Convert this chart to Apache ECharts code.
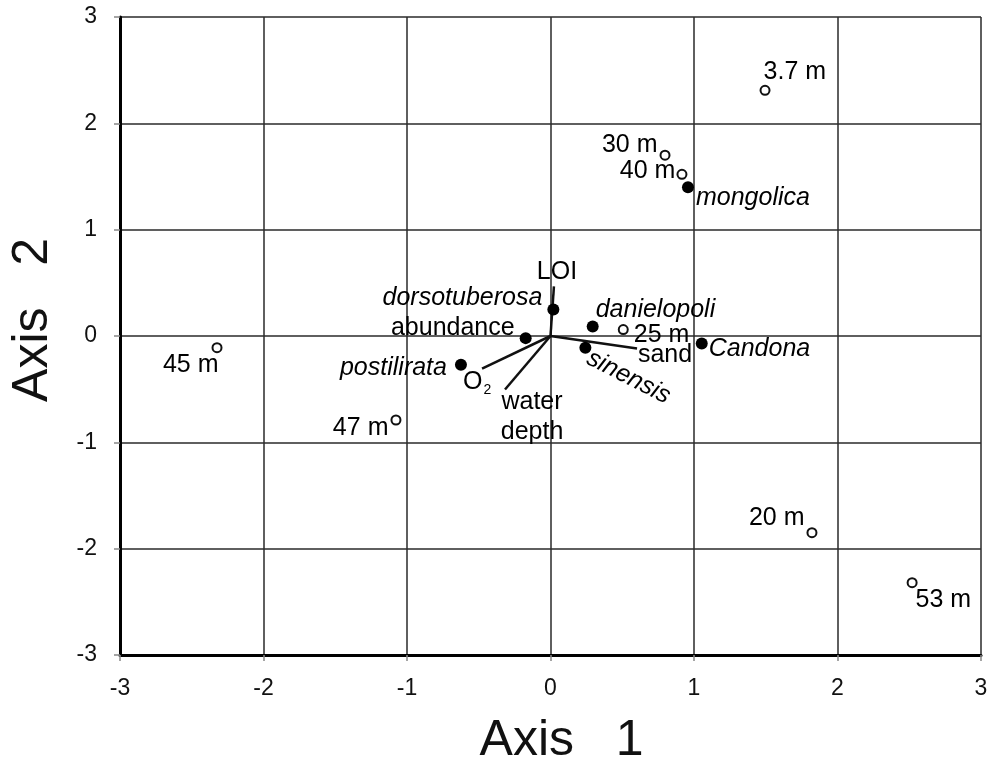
<!DOCTYPE html>
<html>
<head>
<meta charset="utf-8">
<style>
  html, body { margin: 0; padding: 0; background: #fff; }
  #chart { width: 988px; height: 770px; }
</style>
<script src="https://cdn.jsdelivr.net/npm/echarts@6/dist/echarts.min.js"></script>
</head>
<body>
<div id="chart"></div>
<script>
// Sampling sites (open circles): name, axis 1 score, axis 2 score
const siteNames = ['3.7 m', '30 m', '40 m', '25 m', '45 m', '47 m', '20 m', '53 m'];
const siteAxis1 = [1.495, 0.798, 0.916, 0.507, -2.324, -1.077, 1.822, 2.52];
const siteAxis2 = [2.31, 1.70, 1.52, 0.06, -0.11, -0.79, -1.85, -2.32];

// Ostracod taxa and abundance (filled circles)
const taxonNames = ['mongolica', 'dorsotuberosa', 'abundance', 'danielopoli', 'sinensis', 'Candona', 'postilirata'];
const taxonAxis1 = [0.958, 0.02, -0.173, 0.294, 0.243, 1.054, -0.624];
const taxonAxis2 = [1.40, 0.25, -0.02, 0.09, -0.11, -0.07, -0.27];

// Environmental variables (biplot vectors from the origin)
const envNames = ['LOI', 'sand', 'O2', 'water depth'];
const envAxis1 = [0.024, 0.603, -0.477, -0.317];
const envAxis2 = [0.466, -0.118, -0.306, -0.503];

// Axis ticks
const axisTicks = [-3, -2, -1, 0, 1, 2, 3];

// Label placement for each point
const siteLabelPlace = {
  '3.7 m': { position: 'right', offset: [-12, -18] },
  '30 m':  { position: 'left',  offset: [3, -10] },
  '40 m':  { position: 'left',  offset: [4, -3] },
  '25 m':  { position: 'right', offset: [0, 5] },
  '45 m':  { position: 'left',  offset: [12, 17] },
  '47 m':  { position: 'left',  offset: [3, 8] },
  '20 m':  { position: 'left',  offset: [3, -15] },
  '53 m':  { position: 'right', offset: [-7, 17] }
};
const taxonLabelPlace = {
  'mongolica':     { position: 'right', offset: [-3, 11], italic: true },
  'dorsotuberosa': { position: 'left',  offset: [0, -11], italic: true },
  'abundance':     { position: 'left',  offset: [0, -10], italic: false },
  'danielopoli':   { position: 'right', offset: [-8, -16], italic: true },
  'sinensis':      { position: [9, 15], align: 'left', verticalAlign: 'middle', rotate: -27, italic: true },
  'Candona':       { position: 'right', offset: [-4, 6], italic: true },
  'postilirata':   { position: 'left',  offset: [-3, 3], italic: true }
};
const envLabelPlace = {
  'LOI':         { text: 'LOI', offset: [3, -14] },
  'sand':        { text: 'sand', offset: [28, 7] },
  'O2':          { text: 'O{sub|2}', offset: [-5, 14] },
  'water depth': { text: 'water\ndepth', offset: [27, 28] }
};

const FONT = 'Liberation Sans, Arial, sans-serif';
const TEXT_COLOR = '#000';
const LABEL_SIZE = 25;

const chart = echarts.init(document.getElementById('chart'), null, { renderer: 'canvas' });

const siteData = siteNames.map((n, i) => {
  const p = siteLabelPlace[n];
  return {
    name: n,
    value: [siteAxis1[i], siteAxis2[i]],
    label: { show: true, formatter: n, position: p.position, offset: p.offset, distance: 5 }
  };
});

const taxonData = taxonNames.map((n, i) => {
  const p = taxonLabelPlace[n];
  const lbl = { show: true, formatter: n, position: p.position, distance: 5,
                fontStyle: p.italic ? 'italic' : 'normal' };
  if (p.offset) lbl.offset = p.offset;
  if (p.align) lbl.align = p.align;
  if (p.verticalAlign) lbl.verticalAlign = p.verticalAlign;
  if (p.rotate) lbl.rotate = p.rotate;
  return { name: n, value: [taxonAxis1[i], taxonAxis2[i]], label: lbl };
});

// Vector end points carry the variable names
const envEndData = envNames.map((n, i) => {
  const p = envLabelPlace[n];
  return {
    name: n,
    value: [envAxis1[i], envAxis2[i]],
    label: {
      show: true, formatter: p.text, position: [0, 0], offset: p.offset,
      align: 'center', verticalAlign: 'middle', lineHeight: 30,
      color: TEXT_COLOR, opacity: 1, textBorderWidth: 0,
      rich: { sub: { fontSize: 14, verticalAlign: 'bottom', padding: [14, 0, 0, 1], fontFamily: FONT, color: TEXT_COLOR } }
    }
  };
});

// One line series per vector, drawn from the origin
const vectorSeries = envNames.map((n, i) => ({
  type: 'line',
  name: n,
  data: [[0, 0], [envAxis1[i], envAxis2[i]]],
  showSymbol: false,
  symbol: 'none',
  lineStyle: { color: '#111', width: 2.5 },
  silent: true,
  z: 3,
  animation: false
}));

const axisCommon = {
  type: 'value',
  min: -3,
  max: 3,
  interval: 1,
  axisLine: { show: true, onZero: false, lineStyle: { color: '#000', width: 3 } },
  axisTick: { show: true, inside: false, length: 6, lineStyle: { color: '#888', width: 1.5 } },
  splitLine: { show: true, lineStyle: { color: '#2a2a2a', width: 1.5 } },
  nameLocation: 'middle',
  axisLabel: {
    fontFamily: FONT, fontSize: 23, color: '#111',
    formatter: v => axisTicks.includes(v) ? String(v) : ''
  }
};

chart.setOption({
  animation: false,
  backgroundColor: '#fff',
  textStyle: { fontFamily: FONT },
  grid: { left: 120, right: 7, top: 17, bottom: 115, containLabel: false, outerBoundsMode: 'none' },
  xAxis: Object.assign({}, axisCommon, {
    name: 'Axis   1',
    nameGap: 61,
    nameTextStyle: { fontFamily: FONT, fontSize: 50, color: '#111', padding: [0, 0, 0, 22] },
    axisLabel: Object.assign({}, axisCommon.axisLabel, { margin: 22 })
  }),
  yAxis: Object.assign({}, axisCommon, {
    name: 'Axis   2',
    nameGap: 62,
    nameRotate: 90,
    nameTextStyle: { fontFamily: FONT, fontSize: 50, color: '#111', padding: [0, 0, 0, 32] },
    axisLabel: Object.assign({}, axisCommon.axisLabel, { margin: 23 })
  }),
  series: vectorSeries.concat([
    {
      type: 'scatter',
      name: 'sites',
      data: siteData,
      symbol: 'emptyCircle',
      symbolSize: 9,
      itemStyle: { color: '#111', borderColor: '#111', borderWidth: 1.5, opacity: 1 },
      label: { fontFamily: FONT, fontSize: LABEL_SIZE, color: TEXT_COLOR },
      z: 5
    },
    {
      type: 'scatter',
      name: 'taxa',
      data: taxonData,
      symbol: 'circle',
      symbolSize: 12,
      itemStyle: { color: '#000', opacity: 1 },
      label: { fontFamily: FONT, fontSize: LABEL_SIZE, color: TEXT_COLOR },
      z: 6
    },
    {
      type: 'scatter',
      name: 'variables',
      data: envEndData,
      symbol: 'circle',
      symbolSize: 0,
      itemStyle: { color: '#fff', opacity: 1 },
      label: { fontFamily: FONT, fontSize: LABEL_SIZE, color: TEXT_COLOR },
      z: 7
    }
  ])
});
</script>
</body>
</html>
